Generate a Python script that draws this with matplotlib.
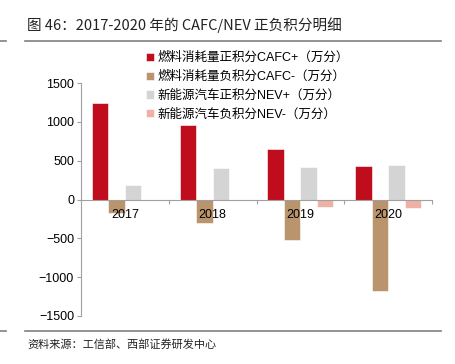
import numpy as np
import matplotlib
matplotlib.use("Agg")
import matplotlib.pyplot as plt
from matplotlib.lines import Line2D

plt.rcParams['font.family'] = ['Liberation Sans', 'Noto Sans CJK SC', 'DejaVu Sans']

years = ['2017', '2018', '2019', '2020']
cafc_pos = [1245, 960, 650, 435]
cafc_neg = [-170, -300, -525, -1180]
nev_pos = [185, 410, 415, 440]
nev_neg = [0, 0, -95, -115]

series = [
    (cafc_pos, '燃料消耗量正积分CAFC+（万分）', '#C00D1E'),
    (cafc_neg, '燃料消耗量负积分CAFC-（万分）', '#B9946D'),
    (nev_pos, '新能源汽车正积分NEV+（万分）', '#D4D4D4'),
    (nev_neg, '新能源汽车负积分NEV-（万分）', '#EDB1A6'),
]

fig = plt.figure(figsize=(4.56, 3.64), dpi=100)
ax = fig.add_axes([81/456, 1-316/364, (432-81)/456, (316-83)/364])

x = np.arange(len(years))
w = 0.75 / 4
for i, (vals, lab, col) in enumerate(series):
    ax.bar(x + (i - 1.5) * w, vals, w, color=col, label=lab,
           edgecolor='white', linewidth=0.4)

ax.set_xlim(-0.5, 3.5)
ax.set_ylim(-1500, 1500)
ax.set_yticks([-1500, -1000, -500, 0, 500, 1000, 1500])
ax.tick_params(axis='y', labelsize=9, length=3, width=0.8, color='#A0A0A0', pad=2)

ax.set_xticks([0.5, 1.5, 2.5, 3.5])
ax.set_xticklabels([])
ax.set_xticks(x, minor=True)
ax.set_xticklabels(years, minor=True)
ax.tick_params(axis='x', which='major', length=3, width=0.8, color='#A0A0A0')
ax.tick_params(axis='x', which='minor', length=0, labelsize=9, pad=6.5)

for s in ['top', 'right']:
    ax.spines[s].set_visible(False)
ax.spines['bottom'].set_position(('data', 0))
for s in ['left', 'bottom']:
    ax.spines[s].set_color('#A0A0A0')
    ax.spines[s].set_linewidth(0.8)

ax.legend(loc='upper left', bbox_to_anchor=(146/456, 1-52/364),
          bbox_transform=fig.transFigure, frameon=False, fontsize=9,
          handlelength=0.65, handleheight=0.65, handletextpad=0.3,
          labelspacing=0.52, borderpad=0, borderaxespad=0)

# header / footer
fig.text(27/456, 1-25/364, '图 46：2017-2020 年的 CAFC/NEV 正负积分明细',
         fontsize=10.5, va='center', ha='left', color='#222222',
         family=['Noto Sans CJK SC', 'DejaVu Sans'])
for yy in [41, 331]:
    fig.add_artist(Line2D([25/456, 441/456], [1-yy/364, 1-yy/364],
                          color='#808080', linewidth=1.2, transform=fig.transFigure))
    fig.add_artist(Line2D([0, 6/456], [1-yy/364, 1-yy/364],
                          color='#808080', linewidth=1.2, transform=fig.transFigure))
fig.text(27/456, 1-344/364, '资料来源：工信部、西部证券研发中心',
         fontsize=8, va='center', ha='left', color='#222222',
         family=['Noto Sans CJK SC', 'DejaVu Sans'])

fig.savefig('out.png', dpi=100)
